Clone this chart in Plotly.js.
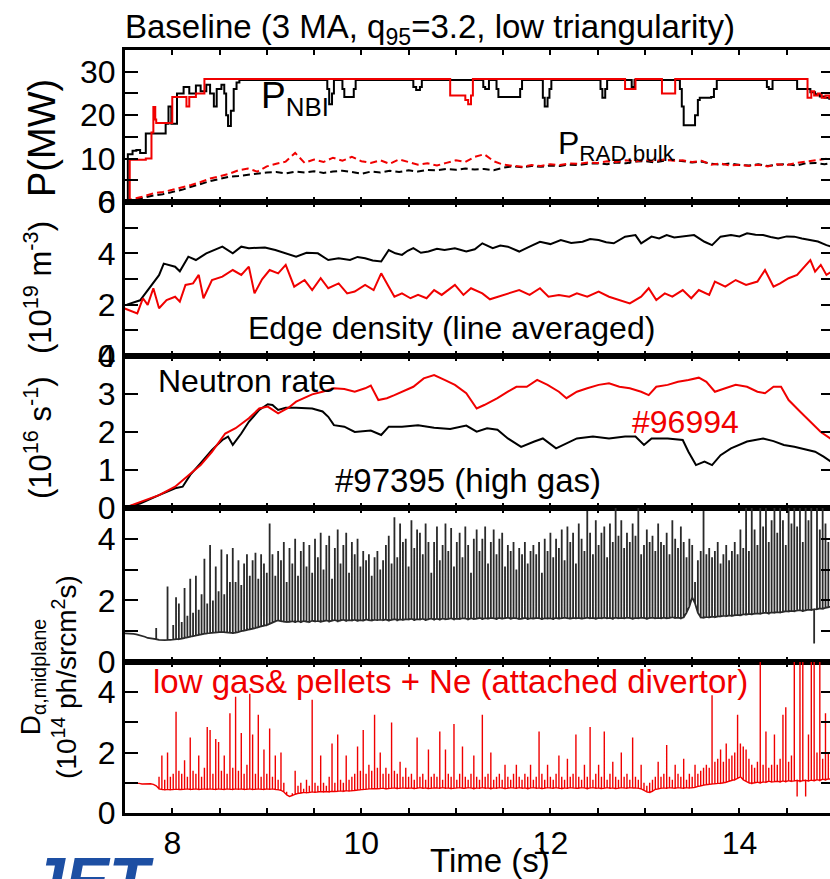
<!DOCTYPE html>
<html>
<head>
<meta charset="utf-8">
<script src="https://cdn.plot.ly/plotly-3.0.1.min.js"></script>
<style>
html,body{margin:0;padding:0;background:#fff;overflow:hidden;}
#chart{width:838px;height:879px;}
</style>
</head>
<body>
<div id="chart"></div>
<script>
// ---------------- DATA ----------------
// Panel 1: NBI power (MW), step changes
const pnbiBlackT = [7.50,7.53,7.58,7.62,7.66,7.72,7.93,7.96,7.99,8.05,8.12,8.18,8.25,8.30,8.36,8.40,8.44,8.47,8.52,8.55,8.57,8.59,8.62,8.65,8.68,8.71,
  9.64,9.66,9.69,9.71,9.80,9.82,9.92,9.94,10.55,10.58,10.62,10.64,11.29,11.31,11.35,11.43,11.45,11.68,11.70,11.92,11.94,11.97,11.99,12.01,
  12.53,12.55,12.58,12.60,12.86,12.89,13.37,13.39,13.41,13.53,13.56,13.58,13.70,13.73,13.76,14.29,14.31,14.35,14.61,14.75,14.80,14.85,14.90,14.95,15.00];
const pnbiBlackP = [0,11.0,11.8,12.0,11.3,15.8,18.0,22.0,18.0,25.0,26.5,25.0,26.8,25.5,27.0,25.0,22.0,26.0,27.0,25.0,20.0,17.5,21.0,26.0,27.5,28.1,
  26.0,22.5,25.0,28.1,26.0,24.2,26.0,28.1,26.5,25.8,26.5,28.1,26.5,26.0,28.1,26.0,24.2,26.0,28.1,24.0,22.0,24.0,26.0,28.1,
  26.0,24.0,26.0,28.1,26.5,28.1,26.0,22.0,17.7,20.0,23.5,24.0,24.2,26.0,28.1,26.5,26.0,28.1,26.0,25.3,24.8,24.3,24.0,23.8,23.8];
const pnbiRedT = [7.50,7.55,7.72,7.78,7.80,7.82,7.83,8.00,8.15,8.18,8.25,8.34,10.94,11.10,11.13,11.16,11.18,12.79,12.90,13.18,13.32,14.72,14.76,14.79,14.83,14.87,14.91,14.95,15.00];
const pnbiRedP = [0,9.7,10.0,16.0,21.9,19.0,18.2,24.2,22.0,24.2,25.0,28.3,24.5,23.5,22.5,24.5,28.3,26.0,28.3,25.0,28.3,24.0,25.5,24.5,25.0,24.0,24.5,24.0,24.0];
// Panel 1: bulk radiated power (MW)
const pradT = [7.5,7.6,7.7,7.8,7.9,8.0,8.1,8.2,8.3,8.4,8.5,8.6,8.7,8.8,8.9,9.0,9.1,9.2,9.3,9.4,9.5,9.6,9.7,9.8,9.9,10.0,
  10.1,10.2,10.3,10.4,10.5,10.6,10.7,10.8,10.9,11.0,11.1,11.2,11.3,11.4,11.5,11.6,11.7,11.8,11.9,12.0,12.1,12.2,12.3,12.4,12.5,
  12.6,12.7,12.8,12.9,13.0,13.1,13.2,13.3,13.4,13.5,13.6,13.7,13.8,13.9,14.0,14.1,14.2,14.3,14.4,14.5,14.6,14.7,14.8,14.9,15.0];
const pradBlack = [0.2,0.5,1.0,1.5,1.8,2.3,2.8,3.5,4.2,4.8,5.3,5.8,6.0,6.3,6.5,6.8,6.9,6.6,7.0,6.8,7.1,6.7,7.0,7.2,6.9,6.5,
  7.0,6.8,7.2,6.9,7.3,7.0,7.4,7.3,7.6,7.4,7.7,7.5,7.6,7.3,7.9,8.2,8.0,8.3,8.1,8.4,8.3,8.6,8.5,8.8,8.9,
  8.7,9.1,8.9,9.3,9.4,9.1,9.5,9.7,9.4,9.1,9.3,8.8,8.6,8.9,8.5,8.4,8.7,8.3,8.6,8.7,8.4,8.9,9.0,8.7,9.1];
const pradRed = [0.3,0.8,1.3,2.0,2.3,2.8,3.3,3.9,4.6,5.4,5.9,6.5,7.3,7.7,7.0,8.2,8.8,9.3,11.3,9.0,9.8,9.2,10.2,9.5,10.4,9.4,
  9.0,9.6,8.8,9.8,9.2,8.6,8.9,8.4,9.0,9.6,9.2,10.4,11.0,9.4,8.6,8.3,8.1,8.5,8.3,8.7,8.5,8.9,8.8,9.1,9.0,
  9.4,9.2,9.6,9.3,9.7,9.4,9.8,9.5,9.6,9.2,9.5,8.6,8.9,8.4,8.6,8.3,8.6,8.2,8.7,8.5,9.0,9.3,9.6,9.8,10.2];
// Panel 2: edge density (1e19 m^-3)
const neBlackT = [7.52,7.66,7.86,7.91,8.03,8.08,8.17,8.25,8.36,8.53,8.64,8.73,8.81,8.98,9.09,9.20,9.31,9.42,9.54,9.65,9.76,9.88,9.96,10.04,10.12,10.21,10.29,
  10.36,10.43,10.49,10.55,10.63,10.71,10.80,10.88,10.99,11.11,11.20,11.28,11.39,11.47,11.55,11.67,11.78,11.89,12.00,12.11,12.22,12.34,12.42,12.51,12.59,12.67,12.79,
  12.90,12.96,13.07,13.15,13.23,13.31,13.40,13.52,13.63,13.71,13.80,13.91,14.00,14.08,14.17,14.25,14.33,14.41,14.50,14.58,14.66,14.75,14.83,14.92,14.98];
const neBlack = [2.00,2.17,3.15,3.60,3.48,3.30,3.87,3.74,4.00,4.26,4.00,4.26,4.20,4.23,4.13,4.00,3.87,4.02,4.00,3.74,3.81,3.74,3.86,3.81,3.72,3.68,4.13,
  4.00,3.94,4.10,4.20,4.02,4.07,4.18,4.13,4.20,4.07,4.16,4.39,4.20,4.30,4.26,4.07,4.26,4.45,4.36,4.52,4.40,4.45,4.56,4.52,4.43,4.39,4.65,
  4.71,4.39,4.65,4.58,4.71,4.62,4.65,4.71,4.45,4.32,4.65,4.71,4.66,4.78,4.72,4.71,4.64,4.58,4.66,4.65,4.58,4.52,4.46,4.32,4.25];
const neRedT = [7.49,7.63,7.69,7.74,7.80,7.86,7.94,8.03,8.08,8.14,8.22,8.28,8.33,8.42,8.53,8.64,8.73,8.81,8.87,8.95,9.03,9.12,9.20,9.29,9.40,9.48,9.57,9.65,9.76,9.85,9.93,
  10.04,10.13,10.21,10.29,10.35,10.43,10.52,10.60,10.69,10.77,10.85,10.99,11.08,11.16,11.28,11.36,11.44,11.55,11.67,11.78,11.89,11.98,12.09,12.20,12.28,12.39,12.51,12.62,
  12.73,12.84,12.96,13.04,13.12,13.21,13.29,13.40,13.49,13.57,13.68,13.74,13.85,13.96,14.07,14.19,14.27,14.36,14.43,14.52,14.61,14.69,14.75,14.80,14.86,14.92,14.98];
const neRed = [1.86,1.66,2.25,1.99,2.64,1.86,2.18,2.31,2.12,2.77,2.83,3.16,2.25,2.96,3.09,3.35,3.16,3.48,2.44,2.99,3.35,3.22,3.55,2.70,2.96,2.57,3.03,2.64,2.83,2.44,2.51,
  2.77,2.57,3.22,2.70,2.31,2.44,2.25,2.38,2.25,2.57,2.38,2.77,2.38,2.64,2.44,2.21,2.31,2.44,2.57,2.38,2.64,2.31,2.38,2.31,2.44,2.31,2.51,2.31,
  2.18,2.05,2.31,2.64,2.18,2.44,2.31,2.57,2.25,2.57,2.38,2.90,2.70,2.96,2.77,2.90,3.35,2.70,2.83,3.03,3.16,3.48,3.74,3.29,3.55,3.16,3.30];
// Panel 3: neutron rate (1e16 /s)
const nBlackT = [7.52,7.66,7.86,8.03,8.11,8.19,8.30,8.42,8.53,8.59,8.64,8.73,8.81,8.92,9.01,9.06,9.12,9.20,9.31,9.48,9.59,9.65,9.71,9.82,9.93,10.10,10.21,10.29,10.43,10.60,
  10.77,10.94,11.11,11.22,11.33,11.44,11.55,11.69,11.83,11.92,12.06,12.17,12.28,12.45,12.62,12.79,12.90,12.99,13.07,13.24,13.40,13.46,13.54,13.63,13.71,13.80,13.91,
  14.08,14.25,14.36,14.47,14.58,14.69,14.80,14.89,14.98];
const nBlack = [0.03,0.12,0.34,0.52,0.56,0.87,1.18,1.53,1.79,1.88,1.66,1.96,2.27,2.58,2.73,2.71,2.58,2.64,2.64,2.62,2.54,2.40,2.18,2.14,2.00,2.04,1.92,2.14,2.14,2.18,
  2.11,2.08,2.17,2.01,2.10,2.06,1.83,1.61,1.75,1.83,1.57,1.70,1.83,1.88,1.83,1.88,1.88,1.66,1.83,1.83,1.79,1.48,1.13,1.22,1.13,1.39,1.57,
  1.75,1.83,1.76,1.66,1.61,1.55,1.48,1.35,1.20];
const nRedT = [7.52,7.66,7.86,8.03,8.19,8.30,8.42,8.56,8.67,8.81,8.92,9.01,9.12,9.23,9.31,9.48,9.59,9.71,9.82,9.93,10.04,10.10,10.18,10.27,10.35,10.43,10.55,10.66,10.77,10.88,
  10.99,11.11,11.19,11.22,11.30,11.44,11.55,11.64,11.75,11.86,11.97,12.09,12.17,12.28,12.39,12.51,12.62,12.73,12.84,12.96,13.04,13.12,13.24,13.35,13.46,13.57,13.65,
  13.74,13.85,13.96,14.08,14.19,14.27,14.36,14.44,14.52,14.64,14.75,14.86,14.98];
const nRed = [0.03,0.16,0.34,0.56,0.91,1.13,1.48,1.96,2.10,2.36,2.62,2.67,2.49,2.64,2.80,2.99,3.06,3.15,3.13,3.06,3.15,3.22,2.84,2.89,2.97,3.06,3.19,3.41,3.50,3.37,
  3.24,3.02,2.71,2.62,2.71,2.89,3.06,3.19,3.19,3.37,3.24,3.06,2.89,3.06,3.15,3.24,3.28,3.19,3.15,3.06,2.97,3.19,3.24,3.32,3.37,3.43,3.32,
  3.06,3.15,3.24,3.19,3.06,3.02,3.19,3.19,2.84,2.54,2.27,2.00,1.80];
// Panels 4-5: D-alpha midplane (1e14 ph/sr cm^2 s), sample times with inter-ELM level and ELM peak
const dTimes = [7.50,7.53,7.56,7.59,7.62,7.65,7.68,7.71,7.74,7.77,
 7.80,7.83,7.86,7.89,7.92,7.95,7.98,8.01,8.04,8.07,
 8.10,8.13,8.16,8.19,8.22,8.25,8.28,8.31,8.34,8.37,
 8.40,8.43,8.46,8.49,8.52,8.55,8.58,8.61,8.64,8.67,
 8.70,8.73,8.76,8.79,8.82,8.85,8.88,8.91,8.94,8.97,
 9.00,9.03,9.06,9.09,9.12,9.15,9.18,9.21,9.24,9.27,
 9.30,9.33,9.36,9.39,9.42,9.45,9.48,9.51,9.54,9.57,
 9.60,9.63,9.66,9.69,9.72,9.75,9.78,9.81,9.84,9.87,
 9.90,9.93,9.96,9.99,10.02,10.05,10.08,10.11,10.14,10.17,
 10.20,10.23,10.26,10.29,10.32,10.35,10.38,10.41,10.44,10.47,
 10.50,10.53,10.56,10.59,10.62,10.65,10.68,10.71,10.74,10.77,
 10.80,10.83,10.86,10.89,10.92,10.95,10.98,11.01,11.04,11.07,
 11.10,11.13,11.16,11.19,11.22,11.25,11.28,11.31,11.34,11.37,
 11.40,11.43,11.46,11.49,11.52,11.55,11.58,11.61,11.64,11.67,
 11.70,11.73,11.76,11.79,11.82,11.85,11.88,11.91,11.94,11.97,
 12.00,12.03,12.06,12.09,12.12,12.15,12.18,12.21,12.24,12.27,
 12.30,12.33,12.36,12.39,12.42,12.45,12.48,12.51,12.54,12.57,
 12.60,12.63,12.66,12.69,12.72,12.75,12.78,12.81,12.84,12.87,
 12.90,12.93,12.96,12.99,13.02,13.05,13.08,13.11,13.14,13.17,
 13.20,13.23,13.26,13.29,13.32,13.35,13.38,13.41,13.44,13.47,
 13.50,13.53,13.56,13.59,13.62,13.65,13.68,13.71,13.74,13.77,
 13.80,13.83,13.86,13.89,13.92,13.95,13.98,14.01,14.04,14.07,
 14.10,14.13,14.16,14.19,14.22,14.25,14.28,14.31,14.34,14.37,
 14.40,14.43,14.46,14.49,14.52,14.55,14.58,14.61,14.64,14.67,
 14.70,14.73,14.76,14.79,14.82,14.85,14.88,14.91,14.94,14.97,
 15.00];
const dBlackBase = [.93,.93,.92,.91,.90,.88,.85,.82,.78,.76,
 .75,.74,.72,.71,.71,.72,.72,.73,.74,.74,
 .76,.78,.80,.82,.84,.86,.88,.90,.92,.93,
 .94,.95,.96,.97,.98,.97,.96,.95,.94,.95,
 .97,1.00,1.02,1.04,1.06,1.08,1.10,1.13,1.16,1.18,
 1.20,1.24,1.28,1.32,1.35,1.33,1.31,1.30,1.30,1.32,
 1.30,1.32,1.30,1.33,1.31,1.30,1.34,1.32,1.33,1.31,
 1.33,1.35,1.32,1.34,1.36,1.33,1.35,1.37,1.34,1.36,
 1.35,1.37,1.34,1.36,1.35,1.38,1.36,1.35,1.37,1.36,
 1.37,1.36,1.38,1.35,1.37,1.39,1.36,1.38,1.37,1.39,
 1.38,1.40,1.37,1.39,1.38,1.40,1.37,1.39,1.41,1.38,
 1.40,1.38,1.41,1.39,1.40,1.42,1.39,1.41,1.40,1.42,
 1.41,1.39,1.42,1.40,1.41,1.43,1.40,1.42,1.41,1.43,
 1.42,1.40,1.43,1.41,1.42,1.44,1.41,1.43,1.42,1.40,
 1.41,1.43,1.40,1.42,1.41,1.43,1.42,1.40,1.42,1.41,
 1.42,1.40,1.43,1.41,1.42,1.44,1.42,1.41,1.43,1.42,
 1.43,1.41,1.42,1.44,1.42,1.43,1.41,1.43,1.42,1.44,
 1.42,1.43,1.41,1.44,1.42,1.43,1.42,1.44,1.43,1.41,
 1.43,1.42,1.44,1.43,1.41,1.43,1.44,1.42,1.43,1.42,
 1.44,1.42,1.43,1.45,1.43,1.44,1.42,1.45,1.60,1.80,
 2.10,1.90,1.60,1.45,1.44,1.46,1.45,1.47,1.46,1.48,
 1.48,1.50,1.49,1.51,1.50,1.52,1.53,1.52,1.55,1.54,
 1.56,1.55,1.57,1.58,1.57,1.59,1.60,1.58,1.61,1.60,
 1.62,1.61,1.63,1.65,1.64,1.66,1.65,1.67,1.68,1.66,
 1.68,1.70,1.69,1.71,1.72,1.74,1.73,1.76,1.78,1.80,
 1.80];
const dBlackPeak = [.93,.93,.92,.91,.90,.88,.85,.82,.78,.76,
 .75,1.1,.72,.71,.71,2.45,.72,1.2,2.1,1.9,
 1.3,2.4,1.5,2.7,1.6,2.8,1.7,2.2,3.35,1.9,
 3.8,2.0,3.1,2.3,3.65,2.2,3.5,2.6,3.7,2.6,
 3.3,2.5,3.2,3.5,2.8,3.3,3.55,2.7,3.5,3.2,
 2.9,4.5,3.5,2.8,3.6,3.3,3.9,2.6,3.7,3.2,
 4.0,2.8,3.6,3.9,3.1,3.8,2.9,4.0,3.4,4.2,
 3.0,3.8,4.1,2.7,3.7,4.3,3.2,3.8,4.2,2.9,
 3.9,3.5,4.0,3.1,3.6,3.3,3.5,2.8,3.4,3.6,
 3.0,3.3,3.8,4.1,3.2,4.7,3.4,4.5,3.9,4.0,
 3.1,4.6,3.7,4.3,4.2,3.5,4.5,3.9,2.9,3.9,
 4.4,3.3,3.8,4.5,3.6,4.35,3.1,3.9,4.2,3.4,
 4.4,3.8,2.9,4.0,4.3,3.6,4.0,4.4,3.2,3.9,
 4.3,3.5,4.0,4.2,3.1,3.8,3.6,3.9,3.0,3.7,
 3.5,3.9,3.2,3.6,3.8,3.5,3.9,2.9,4.0,3.6,
 4.2,3.4,4.0,3.7,4.3,3.3,4.4,3.9,4.2,3.2,
 4.5,4.0,3.6,4.9,4.2,3.5,4.6,3.8,4.2,4.4,
 3.4,4.5,3.9,5.3,4.1,4.6,3.7,4.2,3.9,4.5,
 4.1,5.4,3.5,3.8,4.3,3.9,4.1,3.6,4.5,3.9,
 3.8,4.2,3.5,4.6,4.0,3.7,4.4,3.9,3.4,4.0,
 3.8,2.6,3.3,3.6,4.9,3.5,3.7,3.4,3.6,3.9,
 3.2,3.5,3.8,3.3,3.6,3.9,3.5,4.3,3.7,5.4,
 3.6,5.3,4.3,3.8,5.5,4.4,5.2,3.9,4.6,5.4,
 4.2,5.0,4.6,3.8,5.3,4.5,5.4,4.4,5.2,3.9,
 5.5,4.6,5.3,0.6,5.4,4.3,5.2,4.5,3.9,5.3,
 4.6];
const dRedBase = [.98,.98,.97,.98,.99,.98,.96,.97,.98,.97,
 .95,.90,.80,.78,.77,.78,.77,.78,.79,.78,
 .78,.79,.80,.78,.79,.80,.78,.79,.80,.79,
 .80,.79,.78,.80,.79,.78,.80,.79,.78,.80,
 .79,.80,.78,.79,.80,.78,.79,.80,.79,.78,
 .80,.79,.80,.78,.77,.75,.70,.60,.55,.58,
 .62,.65,.66,.68,.67,.68,.70,.69,.70,.71,
 .70,.71,.70,.72,.71,.72,.73,.72,.74,.73,
 .74,.75,.76,.77,.78,.79,.80,.80,.81,.80,
 .81,.82,.80,.81,.82,.83,.81,.82,.83,.82,
 .82,.83,.81,.82,.84,.82,.83,.81,.82,.83,
 .83,.82,.84,.82,.83,.81,.82,.83,.84,.82,
 .82,.84,.83,.81,.83,.82,.84,.82,.83,.81,
 .83,.82,.84,.83,.81,.82,.84,.83,.82,.84,
 .82,.83,.81,.83,.84,.82,.83,.81,.82,.84,
 .83,.82,.84,.82,.81,.83,.82,.84,.83,.82,
 .82,.84,.83,.81,.83,.84,.82,.83,.81,.82,
 .84,.82,.83,.81,.82,.84,.83,.82,.84,.83,
 .83,.82,.80,.75,.70,.68,.72,.78,.80,.82,
 .83,.82,.84,.83,.82,.84,.83,.82,.84,.83,
 .84,.85,.88,.90,.92,.94,.95,.96,.97,.98,
 .98,1.00,1.02,1.05,1.08,1.10,1.15,1.20,1.10,1.05,
 1.00,.98,1.00,1.02,1.00,1.03,1.02,1.05,1.03,1.04,
 1.05,1.03,1.06,1.04,1.07,1.05,1.06,1.08,1.05,1.07,
 1.08,1.06,1.09,1.07,1.10,1.08,1.12,1.10,1.13,1.12,
 1.10];
const dRedPeak = [.98,.98,.97,.98,.99,.98,.96,.97,.98,.97,
 .95,.92,1.2,1.9,1.1,2.0,1.2,1.3,3.35,1.4,
 1.3,1.75,1.2,2.5,1.4,1.3,1.9,1.2,1.5,2.85,
 2.75,1.3,2.45,2.35,1.4,1.9,1.3,3.3,1.5,3.85,
 1.4,2.65,1.3,1.6,3.95,2.6,1.3,3.25,1.2,2.1,
 1.3,2.8,1.2,1.9,1.1,2.0,1.0,.7,.55,.65,
 1.4,.9,1.0,.8,1.1,.9,3.75,1.0,.9,1.9,
 1.0,.9,1.2,2.3,1.0,2.6,1.1,1.0,1.9,1.1,
 1.2,1.3,2.2,1.4,2.75,1.3,1.6,1.4,3.25,1.5,
 2.0,1.3,1.5,1.3,3.0,1.4,1.3,1.7,1.2,1.5,
 1.2,1.3,1.1,2.5,1.2,1.3,1.1,2.1,1.2,1.3,
 1.2,2.7,1.1,2.1,1.3,1.2,2.95,1.1,1.3,2.2,
 1.2,1.1,1.3,1.9,1.2,1.1,3.25,1.2,1.3,2.0,
 1.1,1.2,1.3,1.1,1.6,1.2,1.1,1.3,1.6,1.2,
 1.1,1.3,1.2,1.6,1.1,1.2,2.7,1.3,1.1,1.6,
 1.2,1.1,1.3,1.9,1.2,1.1,1.8,1.2,1.3,2.6,
 1.2,1.1,1.6,1.2,2.85,1.1,1.3,1.6,1.2,2.7,
 1.1,1.3,1.7,1.2,1.1,2.0,1.2,1.3,1.1,2.5,
 1.2,1.1,1.6,1.0,.9,1.0,1.1,1.2,1.7,1.2,
 1.3,2.25,1.2,1.1,1.6,1.3,1.2,1.8,1.1,1.3,
 1.2,1.6,1.3,1.4,1.5,1.6,1.5,3.9,1.7,1.8,
 2.1,1.7,2.3,1.8,1.9,2.0,3.25,2.3,2.2,2.1,
 1.8,1.6,1.5,1.7,5.5,1.6,2.7,1.5,1.6,2.6,
 1.6,1.8,3.25,3.5,1.7,1.9,5.5,.55,5.5,5.5,
 .55,2.6,5.5,5.5,2.0,5.5,1.8,3.3,2.0,4.0,
 1.5];
// Axis tick labels
const xTickVals = [8,10,12,14];
const xTickText = ['8','10','12','14'];
const y1TickVals = [0,10,20,30];
const y1TickText = ['0','10','20','30'];
const y2TickVals = [0,2,4,6];
const y2TickText = ['0','2','4','6'];
const y3TickVals = [0,1,2,3,4];
const y3TickText = ['0','1','2','3','4'];
const y45TickVals = [0,2,4];
const y45TickText = ['0','2','4'];

// ---------------- BUILD ----------------
const RED = '#f00000';
const FONT = 'Liberation Sans, Arial, Helvetica, sans-serif';

function spikeSeries(t, base, peak){
  const xs=[], ys=[];
  for(let i=0;i<t.length;i++){
    xs.push(t[i],t[i],t[i]);
    ys.push(base[i],peak[i],base[i]);
  }
  return {xs, ys};
}
const blk = spikeSeries(dTimes, dBlackBase, dBlackPeak);
const red = spikeSeries(dTimes, dRedBase, dRedPeak);

const traces = [
  {x:pradT, y:pradBlack, xaxis:'x', yaxis:'y', mode:'lines', line:{color:'#000', width:2, dash:'7px,4px'}},
  {x:pradT, y:pradRed, xaxis:'x', yaxis:'y', mode:'lines', line:{color:RED, width:2, dash:'7px,4px'}},
  {x:pnbiBlackT, y:pnbiBlackP, xaxis:'x', yaxis:'y', mode:'lines', line:{color:'#000', width:2, shape:'hv'}},
  {x:pnbiRedT, y:pnbiRedP, xaxis:'x', yaxis:'y', mode:'lines', line:{color:RED, width:2, shape:'hv'}},
  {x:neBlackT, y:neBlack, xaxis:'x2', yaxis:'y2', mode:'lines', line:{color:'#000', width:2}},
  {x:neRedT, y:neRed, xaxis:'x2', yaxis:'y2', mode:'lines', line:{color:RED, width:2}},
  {x:nBlackT, y:nBlack, xaxis:'x3', yaxis:'y3', mode:'lines', line:{color:'#000', width:2}},
  {x:nRedT, y:nRed, xaxis:'x3', yaxis:'y3', mode:'lines', line:{color:RED, width:2}},
  {x:blk.xs, y:blk.ys, xaxis:'x4', yaxis:'y4', mode:'lines', line:{color:'#2a2a2a', width:1.8}},
  {x:red.xs, y:red.ys, xaxis:'x5', yaxis:'y5', mode:'lines', line:{color:RED, width:1.4}}
];

function mkX(anchor, labels){
  return {anchor:anchor, domain:[0,1], range:[7.5,15], showline:true, linewidth:3, linecolor:'#000',
    mirror:'ticks', ticks:'inside', ticklen:5, tickwidth:2, tickcolor:'#000', tickmode:'array',
    tickvals:xTickVals, ticktext:xTickText, showticklabels:labels, showgrid:false, zeroline:false,
    minor:{tickmode:'linear', tick0:7.5, dtick:0.5, ticks:'inside', ticklen:5, tickwidth:2, tickcolor:'#000', showgrid:false},
    tickfont:{size:32, family:FONT, color:'#000'}};
}
function mkY(anchor, domain, range, vals, text, minorStep){
  return {anchor:anchor, domain:domain, range:range, showline:true, linewidth:3, linecolor:'#000',
    mirror:'ticks', ticks:'inside', ticklen:13, tickwidth:2, tickcolor:'#000', tickmode:'array',
    tickvals:vals, ticktext:text, showgrid:false, zeroline:false, ticklabelstandoff:0,
    minor:{tickmode:'linear', tick0:0, dtick:minorStep, ticks:'inside', ticklen:13, tickwidth:2, tickcolor:'#000', showgrid:false},
    tickfont:{size:32, family:FONT, color:'#000'}};
}
const H = 763;
function py(p){ return (813 - p)/H; }   // pixel row -> paper y
function px(p){ return (p - 125)/709; } // pixel col -> paper x

const annotations = [
  {xref:'paper', yref:'paper', x:px(123), y:py(29), xanchor:'left', yanchor:'middle', showarrow:false,
   text:'Baseline (3 MA, q<sub>95</sub>=3.2, low triangularity)', font:{size:33, family:FONT, color:'#000'}},
  {xref:'paper', yref:'paper', x:px(42), y:py(138), xanchor:'center', yanchor:'middle', showarrow:false, textangle:-90,
   text:'P(MW)', font:{size:38, family:FONT, color:'#000'}},
  {xref:'paper', yref:'paper', x:px(38), y:py(288), xanchor:'center', yanchor:'middle', showarrow:false, textangle:-90,
   text:'(10<sup>19</sup> m<sup>-3</sup>)', font:{size:31, family:FONT, color:'#000'}},
  {xref:'paper', yref:'paper', x:px(38), y:py(438), xanchor:'center', yanchor:'middle', showarrow:false, textangle:-90,
   text:'(10<sup>16</sup> s<sup>-1</sup>)', font:{size:31, family:FONT, color:'#000'}},
  {xref:'paper', yref:'paper', x:px(48), y:py(677), xanchor:'center', yanchor:'middle', showarrow:false, textangle:-90,
   text:'D<sub>α,midplane</sub><br>(10<sup>14</sup> ph/srcm<sup>2</sup>s)', font:{size:28, family:FONT, color:'#000'}},
  {xref:'x', yref:'y', x:8.918, y:23.9, xanchor:'left', yanchor:'middle', showarrow:false,
   text:'P<sub>NBI</sub>', font:{size:37, family:FONT, color:'#000'}},
  {xref:'x', yref:'y', x:12.06, y:12.9, xanchor:'left', yanchor:'middle', showarrow:false,
   text:'P<sub>RAD,bulk</sub>', font:{size:32, family:FONT, color:'#000'}},
  {xref:'x2', yref:'y2', x:8.78, y:1.1, xanchor:'left', yanchor:'middle', showarrow:false,
   text:'Edge density (line averaged)', font:{size:32, family:FONT, color:'#000'}},
  {xref:'x3', yref:'y3', x:7.83, y:3.34, xanchor:'left', yanchor:'middle', showarrow:false,
   text:'Neutron rate', font:{size:32, family:FONT, color:'#000'}},
  {xref:'x3', yref:'y3', x:12.84, y:2.26, xanchor:'left', yanchor:'middle', showarrow:false,
   text:'#96994', font:{size:32, family:FONT, color:RED}},
  {xref:'x3', yref:'y3', x:9.70, y:0.72, xanchor:'left', yanchor:'middle', showarrow:false,
   text:'#97395 (high gas)', font:{size:33, family:FONT, color:'#000'}},
  {xref:'x5', yref:'y5', x:7.775, y:4.34, xanchor:'left', yanchor:'middle', showarrow:false,
   text:'low gas& pellets + Ne (attached divertor)', font:{size:33, family:FONT, color:RED}},
  {xref:'paper', yref:'paper', x:px(490), y:py(860), xanchor:'center', yanchor:'middle', showarrow:false,
   text:'Time (s)', font:{size:33, family:FONT, color:'#000'}},
  {xref:'paper', yref:'paper', x:px(26), y:py(842), xanchor:'left', yanchor:'top', showarrow:false,
   text:'<b><i>JET</i></b>', font:{size:66, family:FONT, color:'#1d4fa3'}}
];

const layout = {
  width:838, height:879,
  margin:{l:125, r:4, t:50, b:66},
  paper_bgcolor:'#fff', plot_bgcolor:'rgba(0,0,0,0)',
  showlegend:false,
  font:{family:FONT, size:32, color:'#000'},
  xaxis: mkX('y', false),
  xaxis2: mkX('y2', false),
  xaxis3: mkX('y3', false),
  xaxis4: mkX('y4', false),
  xaxis5: mkX('y5', true),
  yaxis: mkY('x', [611/H, 1], [0,35], y1TickVals, y1TickText, 5),
  yaxis2: mkY('x2', [457/H, 611/H], [0,6], y2TickVals, y2TickText, 1),
  yaxis3: mkY('x3', [305/H, 457/H], [0,4], y3TickVals, y3TickText, 1),
  yaxis4: mkY('x4', [151/H, 305/H], [0,5], y45TickVals, y45TickText, 1),
  yaxis5: mkY('x5', [0, 151/H], [0,5], y45TickVals, y45TickText, 1),
  annotations: annotations
};

Plotly.newPlot('chart', traces, layout, {displayModeBar:false, staticPlot:true});
</script>
</body>
</html>
